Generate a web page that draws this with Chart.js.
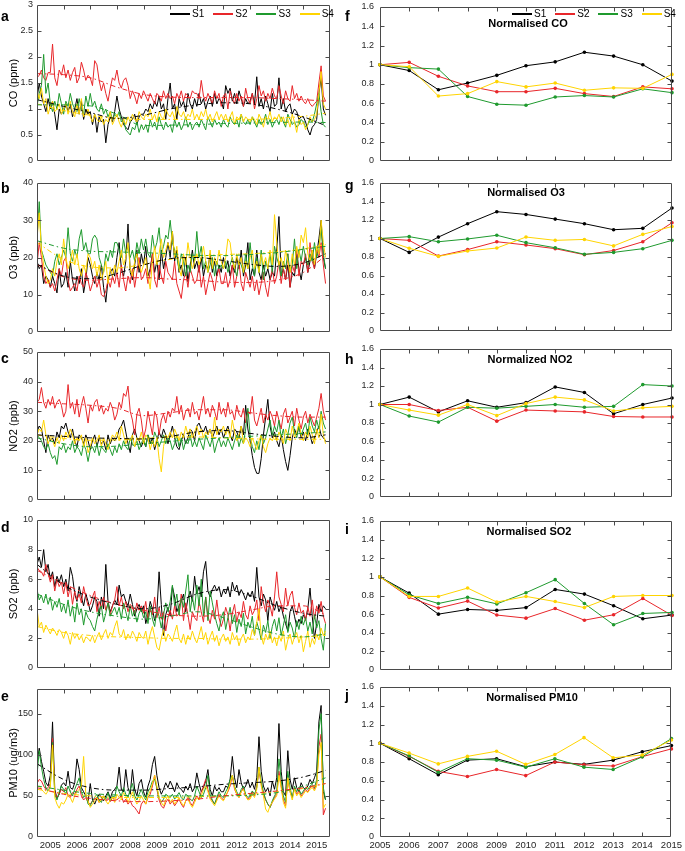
<!DOCTYPE html>
<html>
<head>
<meta charset="utf-8">
<script src="https://cdn.jsdelivr.net/npm/chart.js@4.4.0/dist/chart.umd.min.js"></script>
<style>
body { margin: 0; background: #fff; font-family: 'Liberation Sans', Arial, Helvetica, sans-serif; }
#fig { position: relative; width: 685px; height: 851px; overflow: hidden; }
canvas { position: absolute; }
.lbl { position: absolute; font-weight: bold; font-size: 14px; line-height: 1; color: #000; }
.ttl { position: absolute; font-weight: bold; font-size: 11px; line-height: 1; color: #000; transform: translateX(-50%); white-space: nowrap; }
.leg { position: absolute; display: flex; align-items: center; font-size: 10px; line-height: 1; color: #000; }
.leg .ln { display: inline-block; width: 20px; height: 2px; margin-right: 2px; }
.leg .tx { margin-right: 9px; }
</style>
</head>
<body>
<div id="fig"></div>
<script>
const seriesNames = ['S1', 'S2', 'S3', 'S4'];
const seriesColors = ['#000000', '#e8262a', '#1f9a2e', '#ffd400'];

// month index from Jan 2005 (0) to Nov 2015 (130)
const months = Array.from({length: 131}, (_, i) => i);
const trendMonths = [0, 12, 24, 36, 48, 60, 72, 84, 96, 108, 120, 130];
const yearTickLabels = ['2005', '2006', '2007', '2008', '2009', '2010', '2011', '2012', '2013', '2014', '2015'];
const years = [2005, 2006, 2007, 2008, 2009, 2010, 2011, 2012, 2013, 2014, 2015];

// ---- CO (ppm), monthly
const coS1 = [
  1.2, 1.5, 1.25, 1.1, 0.95, 1.2, 1.0, 1.15, 0.9, 0.6, 1.0, 0.9,
  1.0, 1.1, 0.95, 1.1, 0.85, 1.0, 1.2, 0.9, 1.15, 0.8, 1.0, 0.9,
  0.95, 0.7, 0.9, 0.55, 0.85, 0.75, 0.8, 0.35, 0.7, 0.85, 0.75, 0.95,
  1.25, 1.0, 0.85, 0.7, 0.65, 0.6, 0.75, 0.8, 0.9, 0.7, 0.85, 0.9,
  0.9, 1.0, 0.95, 1.1, 1.0, 1.15, 1.05, 1.25, 1.0, 1.1, 0.8, 1.2,
  1.5, 1.0, 1.1, 0.8, 1.2, 1.05, 1.15, 0.95, 1.3, 1.1, 1.0, 1.2,
  1.05, 1.3, 1.1, 1.2, 1.0, 1.15, 1.25, 1.05, 1.3, 1.1, 1.2, 1.15,
  1.0, 1.45, 1.3, 1.4, 1.15, 1.3, 1.1, 1.35, 1.2, 1.05, 1.2, 1.1,
  1.15, 1.3, 1.1, 1.62, 1.05, 1.2, 1.0, 1.25, 1.1, 0.95, 1.3, 1.05,
  1.1, 1.6, 1.0, 1.2, 0.95, 1.05, 1.1, 0.9, 1.0, 0.95, 0.8, 0.85,
  0.85, 0.75, 0.6, 0.5, 0.65, 0.7, 0.8, 1.3, 1.6, 1.0, 0.88
];
const coS2 = [
  1.6, 1.65, 1.75, 1.6, 1.55, 1.7, 1.7, 2.25, 1.6, 1.45, 1.75, 1.65,
  1.85, 1.6, 1.75, 1.55, 1.7, 1.8, 1.5, 1.6, 1.9, 1.75, 1.55, 1.65,
  1.6, 1.45, 1.93, 1.85, 1.55, 1.35, 1.5, 1.3, 1.15, 1.4, 1.6, 1.55,
  1.75, 1.5, 1.4, 1.55, 1.6, 1.45, 1.2, 1.35, 1.25, 1.1, 1.3, 1.2,
  1.35, 1.25, 1.15, 1.3, 1.2, 1.1, 1.3, 1.25, 1.15, 1.35, 1.2, 1.3,
  1.2, 1.25, 1.1, 1.3, 1.2, 1.35, 1.15, 1.3, 1.25, 1.2, 1.35, 1.3,
  1.3, 1.2, 1.55, 1.25, 1.15, 1.3, 1.2, 1.1, 1.35, 1.2, 1.3, 1.05,
  1.25, 1.3, 1.0, 1.35, 1.2, 1.1, 1.3, 1.15, 1.25, 1.05, 1.4, 1.2,
  1.1, 1.3, 1.0, 1.2, 1.45, 1.25, 1.35, 1.15, 1.3, 1.2, 1.4, 1.25,
  1.2, 1.45, 1.25, 1.1, 1.35, 1.2, 1.15, 1.45, 1.2, 1.3, 1.15, 1.25,
  1.15, 1.1, 1.2, 1.1, 1.05, 1.1, 1.15, 1.5, 1.83, 1.25, 1.15
];
const coS3 = [
  1.05, 1.3, 1.45, 2.05, 1.3, 1.5, 1.1, 0.95, 1.15, 1.0, 1.3, 1.1,
  0.9, 1.15, 1.05, 1.3, 1.1, 1.0, 0.95, 1.2, 1.0, 0.9, 1.25, 1.05,
  1.3, 1.05, 1.15, 1.0, 0.95, 1.1, 0.9, 1.0, 0.85, 0.95, 0.8, 0.9,
  0.85, 0.95, 0.75, 0.8, 0.6, 0.55, 0.5, 0.65, 0.6, 0.75, 0.55, 0.7,
  0.6, 0.7, 0.55, 0.8, 0.65, 0.75, 0.6, 0.85, 0.7, 0.6, 0.75, 0.65,
  0.7, 0.55, 0.8, 0.65, 0.75, 0.6, 0.7, 0.85, 0.65, 0.75, 0.6, 0.7,
  0.75, 0.65, 0.8, 0.7, 0.6, 0.85, 0.75, 0.65, 0.8, 0.7, 0.75, 0.65,
  0.8, 0.7, 0.65, 0.85, 0.75, 0.7, 0.8, 0.65, 0.9, 0.75, 0.7, 0.8,
  0.7, 0.85, 0.75, 0.65, 0.8, 0.7, 0.75, 0.9, 0.7, 0.8, 0.65, 0.75,
  0.8, 0.7, 0.85, 0.75, 0.65, 0.9, 0.8, 0.7, 0.75, 0.65, 0.7, 0.8,
  0.75, 0.65, 0.7, 0.8, 0.75, 0.9, 1.1, 1.3, 0.95, 0.7, 0.65
];
const coS4 = [
  1.35, 1.2, 1.4, 1.1, 1.2, 0.9, 1.05, 1.15, 0.95, 1.0, 1.1, 0.9,
  1.0, 1.1, 0.9, 1.15, 0.95, 0.85, 1.1, 0.9, 1.2, 0.85, 0.9, 1.0,
  0.85, 0.75, 0.9, 0.8, 0.75, 0.85, 0.7, 0.8, 0.75, 0.95, 0.7, 0.8,
  0.9, 0.75, 0.65, 0.8, 0.7, 0.85, 0.75, 0.9, 0.8, 0.75, 0.95, 0.85,
  0.8, 0.9, 0.85, 1.0, 0.8, 0.9, 0.75, 0.95, 0.85, 0.8, 1.0, 0.9,
  0.85, 0.95, 0.8, 1.05, 0.9, 0.85, 0.95, 0.8, 0.9, 0.85, 1.0, 0.8,
  0.9, 0.8, 0.95, 0.85, 1.0, 0.8, 0.9, 0.75, 0.85, 0.95, 0.8, 0.9,
  0.8, 0.9, 0.75, 0.85, 0.95, 0.7, 0.85, 0.8, 0.9, 0.75, 0.85, 0.8,
  0.75, 0.85, 0.8, 0.7, 0.9, 0.8, 0.65, 0.85, 0.8, 0.95, 0.75, 0.85,
  0.8, 0.9, 0.75, 0.85, 0.7, 0.8, 0.65, 0.9, 0.75, 0.55, 0.8, 0.7,
  0.75, 0.6, 0.7, 0.85, 0.75, 0.8, 0.9, 1.3, 1.72, 1.1, 1.0
];
const coTrendS1 = [1.18, 1.05, 0.93, 0.82, 0.88, 1.0, 1.08, 1.12, 1.1, 1.0, 0.85, 0.68];
const coTrendS2 = [1.68, 1.66, 1.6, 1.42, 1.28, 1.23, 1.22, 1.22, 1.22, 1.2, 1.18, 1.15];
const coTrendS3 = [1.08, 1.08, 1.06, 0.9, 0.68, 0.69, 0.7, 0.72, 0.73, 0.74, 0.75, 0.74];
const coTrendS4 = [1.1, 0.97, 0.88, 0.82, 0.8, 0.8, 0.8, 0.8, 0.8, 0.82, 0.86, 0.92];

// ---- O3 (ppb), monthly
const o3S1 = [
  19, 17, 18, 13, 15, 14, 12, 15, 13, 10.5, 17, 12,
  13, 16, 12, 19, 14, 11, 15, 13, 17, 10.5, 14, 20,
  18, 15, 13, 16, 14, 18, 12, 8, 14, 16, 17, 15,
  20, 24, 17, 15, 19, 29, 16, 14, 18, 22, 16, 21,
  18, 23, 15, 17, 21, 16, 19, 14, 22, 17, 20, 24,
  20, 27, 19, 22, 16, 18, 15, 20, 13.5, 18, 22, 17,
  19, 16, 20, 15, 18, 17, 21, 16, 19, 15, 18, 16,
  20, 17, 19, 15, 18, 16, 20, 17, 22, 15, 18, 24,
  14, 17, 15, 22, 16, 14, 18, 15, 17, 14, 16, 15,
  22, 31, 15, 17, 14, 18, 12, 16, 15, 21, 17, 14,
  18, 20, 16, 19, 22, 17, 21, 25, 30, 20, 17
];
const o3S2 = [
  18, 24, 20, 15, 13, 14, 12, 13, 11, 14, 17, 15,
  19, 20, 14, 11, 12, 13, 11, 15, 13, 12, 16, 14,
  11, 13, 15, 12, 14, 10, 9.5, 11, 14, 12, 15, 13,
  16, 12, 18, 14, 11, 15, 13, 17, 12, 16, 20, 14,
  15, 17, 13, 16, 21, 14, 12, 18, 15, 13, 19, 16,
  15, 14, 19, 13, 11, 9, 14, 16, 12, 17, 15, 13,
  14, 18, 12, 15, 10, 13, 16, 14, 11, 15, 17, 13,
  13, 16, 12, 14, 18, 12, 15, 19, 13, 11, 16, 14,
  12, 15, 11, 14, 10, 13, 16, 12, 9.5, 14, 17, 13,
  15, 19, 13, 17, 14, 21, 12, 18, 16, 22, 15, 19,
  18, 21, 16, 24, 19, 17, 22, 20, 24, 18, 13
];
const o3S3 = [
  25, 35, 22, 20, 18, 17, 16, 15, 19, 21, 18, 20,
  22, 20, 28, 21, 19, 22, 20, 25, 27.5, 22, 24, 21,
  21, 25, 26, 25, 20, 18, 16, 21, 19, 22, 20, 24,
  24, 22, 20, 25, 21, 23, 20, 22, 19, 24, 21, 25,
  22, 25, 21, 20, 26, 22, 24, 28, 21, 23, 26, 25,
  30, 24, 22, 20, 17, 21, 19, 15, 18, 16, 21, 19,
  27, 20, 23, 17, 19, 16, 18, 20, 15, 19, 17, 18,
  17, 19, 16, 18, 20, 17, 15, 19, 18, 16, 21, 17,
  24, 18, 15, 20, 16, 22, 14, 19, 17, 21, 16, 23,
  20, 18, 15, 19, 17, 21, 16, 18, 25, 17, 22, 19,
  23, 20, 18, 21, 19, 24, 20, 22, 28, 21, 17
];
const o3S4 = [
  25, 32, 22, 18, 15, 13, 14, 17, 15, 19, 21, 18,
  25, 20, 17, 19, 22, 18, 21, 17, 15, 18, 16, 21,
  20, 17, 19, 15, 18, 14, 16, 19, 13, 17, 15, 18,
  16, 19, 22, 18, 20, 24, 17, 15, 19, 21, 18, 16,
  18, 20, 15, 11.5, 19, 23, 18, 21, 25, 20, 22, 24,
  22, 27, 20, 23, 17, 15, 21, 18, 24, 20, 17, 19,
  21, 18, 20, 23, 19, 16, 22, 17, 20, 18, 22, 19,
  17, 20, 25, 24, 19, 17, 21, 18, 20, 16, 19, 17,
  20, 22, 17, 19, 16, 21, 18, 20, 17, 22, 18, 31.5,
  24, 18, 20, 17, 22, 19, 16, 21, 18, 23, 20, 26,
  24, 28, 21, 19, 22, 18, 23, 21, 30, 24, 20
];
const o3TrendS1 = [18.2, 15, 14.3, 15.7, 18, 19.7, 20, 19.2, 18.2, 17.6, 18.5, 21];
const o3TrendS2 = [18.1, 14.8, 13.9, 14.3, 14.6, 14.2, 13.9, 13.4, 13.3, 13.9, 16, 20.5];
const o3TrendS3 = [24.5, 22.5, 21.7, 21.5, 21.3, 21, 20.6, 20.5, 20.8, 21.3, 22.2, 23];
const o3TrendS4 = [24, 19.5, 17.5, 17.2, 18.2, 19.5, 20.3, 20.8, 21, 21.5, 22.3, 23.5];

// ---- NO2 (ppb), monthly
const no2S1 = [
  23, 25, 24, 20, 16, 22, 20, 21, 19, 23, 21, 25,
  24, 26, 23, 21, 24, 20, 18, 22, 21, 19, 22, 20,
  17, 20, 22, 18, 21, 19, 20, 17, 22, 19, 21, 20,
  21, 24, 25, 27, 23, 19, 16, 22, 24, 21, 20, 18,
  20, 18, 22, 19, 21, 17, 20, 23, 21, 24, 22, 19,
  22, 25, 21, 18, 17, 20, 22, 19, 21, 24, 23, 20,
  25, 26, 24, 23, 25, 22, 24, 21, 23, 25, 22, 24,
  21, 23, 25, 22, 20, 24, 23, 21, 25, 22, 32, 24,
  20, 15, 11, 9, 9, 14, 22, 28, 34, 25, 21, 23,
  20, 18, 22, 17, 13, 10, 15, 21, 24, 22, 25, 21,
  23, 20, 24, 22, 19, 21, 23, 25, 22, 21, 20
];
const no2S2 = [
  33, 34, 38, 33, 31, 34, 32, 35, 31, 33, 34, 32,
  28, 30, 39, 31, 33, 29, 34, 28, 32, 35, 31, 26,
  32, 30, 33, 34, 30, 32, 29, 31, 30, 33, 31, 27,
  29, 33, 31, 36, 35, 38.5, 30, 27, 22, 29, 31, 27,
  21, 24, 30, 26, 22, 30, 28, 22, 27, 29, 26, 30,
  28, 31, 30, 35, 29, 32, 27, 30, 31, 28, 33, 29,
  30, 27, 31, 35, 29, 31, 28, 32, 30, 27, 33, 29,
  31, 28, 33, 29, 30, 27, 32, 29, 28, 31, 26, 30,
  29, 35, 27, 25, 28, 31, 26, 29, 27, 30, 28, 25,
  30, 27, 24, 29, 31, 26, 28, 30, 25, 31, 27, 24,
  28, 30, 26, 29, 27, 25, 28, 31, 36, 30, 27
];
const no2S3 = [
  22, 21, 20, 18, 17, 19, 16, 14, 15, 12, 18, 17,
  19, 16, 18, 17, 20, 16, 18, 17, 15, 19, 17, 13,
  17, 18, 16, 19, 15, 18, 17, 16, 19, 17, 15, 18,
  16, 19, 17, 20, 18, 17, 21, 19, 18, 20, 17, 19,
  21, 18, 22, 20, 19, 23, 21, 18, 20, 22, 19, 21,
  20, 17, 19, 22, 18, 21, 17, 20, 19, 22, 18, 20,
  18, 21, 19, 17, 22, 20, 18, 21, 16, 19, 21, 18,
  20, 18, 21, 19, 17, 20, 22, 18, 21, 19, 24, 31,
  22, 18, 16, 20, 17, 22, 19, 21, 24, 27, 22, 25,
  23, 27, 21, 24, 19, 22, 26, 28, 23, 21, 25, 22,
  24, 26, 22, 28, 25, 23, 27, 24, 30, 26, 24
];
const no2S4 = [
  22, 24, 23, 27, 22, 19, 21, 20, 18, 21, 19, 22,
  20, 23, 21, 24, 22, 19, 21, 20, 22, 18, 21, 16,
  18, 21, 19, 20, 22, 18, 21, 19, 17, 20, 22, 21,
  23, 20, 25, 22, 19, 21, 20, 22, 18, 21, 20, 23,
  19, 22, 21, 17, 20, 18, 21, 14, 9.5, 18, 22, 21,
  23, 21, 24, 22, 20, 23, 21, 25, 22, 24, 21, 23,
  25, 22, 24, 21, 23, 22, 24, 21, 28, 22, 24, 23,
  25, 22, 24, 21, 27, 23, 20, 22, 25, 19, 21, 20,
  18, 21, 19, 17, 20, 22, 18, 16, 19, 21, 20, 22,
  20, 23, 21, 19, 24, 22, 20, 25, 21, 23, 26, 22,
  20, 23, 21, 25, 22, 19, 24, 21, 29, 22, 19
];
const no2TrendS1 = [22, 21.5, 21, 20.8, 20.6, 21.5, 23, 23.5, 22.5, 21.5, 21, 22];
const no2TrendS2 = [33, 32.5, 32, 31, 28.5, 29.5, 30.5, 30.5, 29.5, 28.5, 28, 28];
const no2TrendS3 = [21, 19, 18, 18.2, 19, 19.8, 20.5, 21, 21.5, 22, 22.5, 23];
const no2TrendS4 = [22, 20.8, 20.2, 20.3, 20.8, 21.2, 21.3, 21, 20.7, 20.5, 20.5, 20.5];

// ---- SO2 (ppb), monthly
const so2S1 = [
  7, 7.5, 6.8, 8, 6.5, 7, 6, 6.5, 5.5, 6.2, 5.8, 6.3,
  5.5, 6, 5.2, 6.8, 6.2, 5, 4.5, 5.5, 4.8, 4.2, 5, 4.5,
  3.8, 4.2, 4.8, 4.5, 3.5, 4.8, 4, 7, 4.5, 3.8, 4.2, 4.6,
  4.3, 5.6, 4.8, 5, 4.5, 4.2, 5, 4.3, 3.5, 4, 4.3, 3.8,
  4.2, 3, 3.6, 4.5, 4, 3.2, 3.8, 6.5, 4.3, 2.2, 3.6, 4.1,
  3.5, 5.5, 4.8, 3.8, 4.2, 4.5, 5, 3.8, 4.7, 5.2, 4.5, 6.2,
  5, 5.5, 4.8, 6.5, 7.2, 5.2, 4.8, 5.3, 5.6, 5.2, 5.5, 4.8,
  5.3, 5, 5.5, 4.8, 5.8, 5.2, 5.6, 4.9, 5.3, 5, 4.6, 5.1,
  4.8, 5.2, 4.5, 6.8, 4.8, 4.2, 5, 4.6, 3.2, 4.8, 4.3, 3.9,
  4.5, 3.8, 4.2, 3.5, 3, 2.5, 3.8, 4.2, 3.5, 2.8, 3.3, 3,
  3.6, 3.3, 4, 5.4, 3.5, 2, 3, 4.3, 3.8, 4.2, 4
];
const so2S2 = [
  6.8, 6.6, 6.5, 6.2, 7, 6.4, 5.8, 6.3, 5.2, 6, 5.5, 5.8,
  5, 5.8, 4.8, 5.5, 4.3, 5.2, 4.6, 5, 4.4, 5.5, 4.8, 4.2,
  4.3, 4.8, 5.2, 3.8, 4.5, 4, 4.8, 3.9, 4.4, 3.6, 4.2, 4.6,
  5.5, 4.2, 4.8, 4, 4.5, 3.8, 4.3, 4.1, 3.7, 4.4, 3.9, 4.2,
  3.7, 4.5, 3.3, 4, 3.6, 4.8, 3.4, 4.1, 3.3, 3.8, 2.5, 3.4,
  3.9, 3.3, 4.2, 3.5, 3.7, 5, 3.2, 4.4, 3.6, 2.6, 3.8, 3.4,
  3.2, 4.5, 3.8, 3.1, 4.8, 3.5, 3, 3.9, 3.3, 4.6, 3.4, 2.8,
  3.3, 4.1, 3.6, 2.5, 3.7, 4.3, 3.1, 3.8, 3.4, 4.5, 3.6, 3.3,
  4.2, 3.6, 3.9, 4.6, 3.2, 5.5, 4.4, 3.8, 4.6, 4.2, 3.5, 4.8,
  6.5, 4.8, 4.3, 3.8, 5.4, 4.2, 4.9, 5.2, 4.1, 3.6, 4.4, 3.7,
  3.9, 3.2, 4.1, 3.5, 4.6, 3.3, 4.2, 3.7, 4.5, 3.5, 3
];
const so2S3 = [
  5.3, 4.6, 4.9, 4.4, 5, 4.3, 4.8, 3.9, 4.5, 4.1, 4.7, 3.8,
  4.3, 3.7, 4.6, 3.5, 4.2, 3.1, 4.4, 3.6, 4, 2.9, 3.8, 3.4,
  3.2, 2.8, 2.5, 3.3, 3.9, 4.2, 3.1, 3.7, 4.4, 3.5, 3.8, 4.1,
  3.6, 4.1, 3.3, 4.4, 3.8, 3.2, 4.2, 3.5, 3.9, 3.1, 3.7, 4,
  3.4, 3.8, 3, 4.2, 3.3, 2.8, 3.9, 3.5, 2.7, 3.6, 4.4, 3.8,
  4.5, 5.6, 4.2, 5, 3.6, 4.7, 4.1, 5.2, 6.3, 3.8, 4.8, 3.9,
  5.6, 4.2, 6, 3.5, 4.8, 3.2, 5.2, 4.4, 3.6, 3, 2.5, 3.4,
  3.8, 2.6, 3.4, 4.1, 3, 3.6, 2.4, 3.3, 2.8, 3.7, 2.3, 3.1,
  2.7, 3.5, 2.2, 3.1, 2.6, 1.9, 2.9, 2.4, 3.2, 2, 2.8, 3.3,
  2.5, 3.4, 2.2, 2.9, 3.6, 2.4, 3.1, 2.7, 2, 3.2, 2.6, 3.5,
  2.9, 3.4, 2.5, 3.1, 2.3, 3.6, 2.7, 3.2, 2, 1.2, 3
];
const so2S4 = [
  4, 2.8, 3.1, 2.4, 2.9, 2.6, 2.3, 2.7, 2.5, 2.2, 2.6, 2.4,
  2, 2.5, 2.2, 1.6, 2.4, 2, 2.3, 1.9, 2.2, 1.7, 2.1, 2,
  1.8, 2.2, 1.7, 2.1, 2.4, 1.9, 2.3, 2.6, 2, 2.4, 2.2, 2.8,
  3.2, 2.3, 2.1, 2.6, 1.9, 2.3, 2, 2.5, 2.2, 1.8, 2.4, 2.1,
  2, 2.5, 1.6, 2.3, 2.8, 2.1, 1.4, 1.2, 2, 2.6, 1.8, 2.3,
  2.1, 1.8, 2.4, 2.9, 2, 1.7, 2.3, 1.6, 2.2, 1.9, 2.5, 2,
  1.7, 2.2, 2.8, 1.9, 2.4, 1.6, 2.1, 2.5, 1.8, 2.2, 1.5, 2,
  2.3, 1.8, 2.1, 1.6, 2.4, 1.9, 2.2, 1.5, 2, 2.3, 1.7, 2.1,
  1.9, 2.6, 2.2, 3.1, 4, 2.2, 1.6, 2.3, 1.9, 2.5, 1.7, 2.1,
  1.5, 2.2, 1.8, 2.5, 1.2, 1.9, 2.3, 1.6, 2.1, 2.4, 1.7, 2.2,
  1.1, 1.8, 2.5, 1.4, 2, 1.6, 2.3, 1.9, 2.7, 2.2, 2.5
];
const so2TrendS1 = [7.0, 5.6, 4.8, 4.3, 4.0, 4.3, 5.0, 5.3, 4.9, 4.2, 3.7, 3.5];
const so2TrendS2 = [6.6, 5.7, 4.9, 4.3, 3.9, 3.6, 3.5, 3.6, 3.9, 4.2, 4.2, 3.6];
const so2TrendS3 = [5.0, 4.3, 3.8, 3.5, 3.3, 3.5, 3.8, 3.4, 2.8, 2.3, 2.1, 2.3];
const so2TrendS4 = [2.8, 2.4, 2.2, 2.1, 2.05, 2.0, 2.0, 1.95, 1.95, 2.0, 2.1, 2.2];

// ---- PM10 (ug/m3), monthly
const pmS1 = [
  90, 108, 92, 80, 66, 62, 75, 140, 58, 47, 52, 63,
  66, 62, 80, 60, 58, 66, 95, 82, 60, 55, 50, 43,
  65, 45, 40, 47, 52, 48, 44, 50, 55, 47, 55, 58,
  62, 85, 58, 55, 82, 60, 52, 82, 58, 50, 65, 70,
  55, 48, 62, 70, 88, 98, 75, 60, 52, 58, 66, 60,
  68, 62, 55, 66, 60, 58, 54, 62, 57, 65, 55, 60,
  78, 65, 55, 60, 68, 82, 58, 50, 62, 56, 60, 55,
  55, 62, 60, 70, 98, 72, 60, 82, 66, 58, 62, 70,
  60, 66, 58, 72, 122, 80, 62, 55, 60, 50, 68, 58,
  72, 138, 80, 55, 50, 105, 70, 58, 72, 60, 55, 66,
  60, 58, 62, 70, 65, 72, 80, 140, 160, 55, 45
];
const pmS2 = [
  65, 70, 68, 62, 58, 60, 65, 120, 55, 48, 52, 58,
  55, 60, 50, 48, 54, 52, 58, 62, 50, 45, 48, 42,
  40, 44, 46, 48, 42, 45, 50, 44, 47, 43, 48, 46,
  45, 48, 50, 42, 46, 40, 44, 38, 36, 32, 28, 40,
  44, 40, 48, 52, 62, 75, 58, 45, 38, 35, 42, 46,
  40, 44, 38, 42, 46, 40, 36, 44, 48, 42, 38, 45,
  50, 46, 55, 62, 70, 58, 48, 44, 40, 46, 52, 48,
  45, 50, 55, 62, 75, 58, 52, 48, 55, 60, 50, 46,
  48, 55, 50, 62, 80, 65, 52, 45, 40, 36, 42, 48,
  52, 80, 62, 45, 38, 70, 55, 48, 60, 52, 56, 50,
  54, 58, 55, 60, 62, 58, 65, 110, 125, 27, 35
];
const pmS3 = [
  75, 105, 85, 70, 60, 56, 62, 115, 52, 45, 55, 62,
  58, 52, 62, 55, 50, 58, 65, 72, 55, 48, 52, 40,
  38, 44, 48, 52, 45, 42, 50, 46, 54, 44, 50, 48,
  62, 55, 50, 60, 52, 48, 58, 65, 50, 45, 52, 58,
  50, 45, 55, 60, 68, 70, 60, 48, 42, 46, 52, 50,
  48, 52, 46, 50, 54, 48, 45, 52, 50, 46, 44, 50,
  62, 55, 48, 52, 60, 75, 52, 45, 40, 48, 55, 50,
  48, 55, 60, 70, 75, 62, 55, 50, 58, 62, 52, 48,
  50, 56, 52, 60, 85, 68, 55, 46, 40, 36, 44, 50,
  55, 95, 70, 50, 42, 80, 60, 48, 62, 55, 58, 52,
  56, 60, 58, 62, 64, 60, 70, 130, 150, 60, 45
];
const pmS4 = [
  60, 62, 58, 55, 52, 56, 60, 112, 48, 40, 35, 42,
  40, 45, 52, 48, 42, 50, 55, 58, 62, 98, 50, 44,
  36, 40, 44, 48, 42, 46, 50, 44, 40, 45, 48, 42,
  52, 48, 45, 54, 50, 42, 48, 55, 46, 40, 44, 50,
  45, 40, 50, 56, 65, 75, 62, 48, 42, 38, 45, 50,
  42, 46, 40, 44, 48, 42, 38, 44, 46, 40, 36, 42,
  48, 45, 50, 58, 62, 55, 46, 42, 38, 44, 50, 46,
  44, 50, 56, 65, 75, 60, 52, 48, 55, 58, 50, 45,
  46, 52, 48, 58, 85, 62, 50, 34, 30, 38, 42, 46,
  50, 75, 60, 42, 35, 72, 55, 45, 58, 50, 54, 48,
  52, 56, 54, 58, 60, 56, 62, 100, 115, 35, 40
];
const pmTrendS1 = [89, 70, 60, 57, 57, 59, 61, 64, 66, 68, 73, 81];
const pmTrendS2 = [60, 52, 47, 44, 43, 44, 46, 50, 53, 56, 60, 65];
const pmTrendS3 = [62, 57, 53, 51, 50, 50, 50, 50, 51, 54, 62, 72];
const pmTrendS4 = [58, 53, 50, 48, 48, 48, 49, 50, 52, 55, 59, 65];

// ---- normalised annual means
const normCoS1 = [1.0, 0.94, 0.74, 0.81, 0.89, 0.99, 1.03, 1.13, 1.09, 1.0, 0.83];
const normCoS2 = [1.0, 1.025, 0.88, 0.78, 0.72, 0.72, 0.755, 0.70, 0.67, 0.77, 0.75];
const normCoS3 = [1.0, 0.97, 0.955, 0.67, 0.59, 0.58, 0.665, 0.68, 0.665, 0.75, 0.71];
const normCoS4 = [1.0, 0.98, 0.675, 0.70, 0.825, 0.77, 0.81, 0.735, 0.76, 0.755, 0.90];
const normO3S1 = [1.0, 0.85, 1.015, 1.16, 1.29, 1.26, 1.21, 1.16, 1.095, 1.11, 1.33];
const normO3S2 = [1.0, 0.98, 0.81, 0.88, 0.965, 0.93, 0.89, 0.825, 0.87, 0.965, 1.17];
const normO3S3 = [1.0, 1.02, 0.965, 0.995, 1.035, 0.955, 0.90, 0.83, 0.85, 0.89, 0.98];
const normO3S4 = [1.0, 0.895, 0.807, 0.865, 0.897, 1.016, 0.98, 0.99, 0.92, 1.045, 1.13];
const normNo2S1 = [1.0, 1.08, 0.92, 1.04, 0.97, 1.02, 1.19, 1.13, 0.90, 1.0, 1.07];
const normNo2S2 = [1.0, 1.0, 0.935, 0.97, 0.82, 0.94, 0.93, 0.92, 0.87, 0.865, 0.865];
const normNo2S3 = [1.0, 0.875, 0.81, 0.97, 0.96, 0.98, 1.0, 0.97, 0.98, 1.215, 1.20];
const normNo2S4 = [1.0, 0.94, 0.885, 1.0, 0.88, 1.01, 1.08, 1.05, 0.93, 0.965, 0.98];
const normSo2S1 = [1.0, 0.825, 0.60, 0.65, 0.64, 0.67, 0.865, 0.815, 0.69, 0.55, 0.59];
const normSo2S2 = [1.0, 0.78, 0.665, 0.74, 0.59, 0.557, 0.66, 0.535, 0.593, 0.768, 0.586];
const normSo2S3 = [1.0, 0.807, 0.714, 0.78, 0.71, 0.83, 0.97, 0.714, 0.486, 0.607, 0.618];
const normSo2S4 = [1.0, 0.79, 0.79, 0.88, 0.73, 0.79, 0.735, 0.67, 0.79, 0.80, 0.80];
const normPmS1 = [1.0, 0.835, 0.665, 0.82, 0.835, 0.75, 0.80, 0.775, 0.82, 0.91, 0.975];
const normPmS2 = [1.0, 0.86, 0.70, 0.645, 0.72, 0.655, 0.80, 0.77, 0.757, 0.857, 0.94];
const normPmS3 = [1.0, 0.865, 0.69, 0.835, 0.82, 0.745, 0.835, 0.745, 0.72, 0.855, 1.05];
const normPmS4 = [1.0, 0.895, 0.78, 0.86, 0.915, 0.775, 0.88, 1.06, 0.845, 0.875, 1.035];

const FONT = "'Liberation Sans', Arial, Helvetica, sans-serif";
const TICK_COLOR = '#262626';
Chart.defaults.font.family = FONT;

// MATLAB-like box with inward tick marks
const boxTicks = {
    id: 'boxTicks',
    afterDraw(chart, args, opts) {
        const {ctx, chartArea: a} = chart;
        const xs = chart.scales.x, ys = chart.scales.y;
        const L = Math.round(a.left) + 0.5, R = Math.round(a.right) - 0.5;
        const T = Math.round(a.top) + 0.5, B = Math.round(a.bottom) - 0.5;
        const len = 4;
        ctx.save();
        ctx.strokeStyle = '#4a4a4a';
        ctx.lineWidth = 1;
        ctx.beginPath();
        ctx.rect(L, T, R - L, B - T);
        xs.ticks.forEach(t => {
            if (opts.xEvery && t.value % opts.xEvery !== 0) return;
            const px = Math.round(xs.getPixelForValue(t.value)) + 0.5;
            if (px <= L + 1 || px >= R - 1) return;
            ctx.moveTo(px, B); ctx.lineTo(px, B - len);
            ctx.moveTo(px, T); ctx.lineTo(px, T + len);
        });
        ys.ticks.forEach(t => {
            const py = Math.round(ys.getPixelForValue(t.value)) + 0.5;
            if (py <= T + 1 || py >= B - 1) return;
            ctx.moveTo(L, py); ctx.lineTo(L + len, py);
            ctx.moveTo(R, py); ctx.lineTo(R - len, py);
        });
        ctx.stroke();
        ctx.restore();
    }
};
Chart.register(boxTicks);

const fig = document.getElementById('fig');

function addCanvas(left, top, w, h) {
    const c = document.createElement('canvas');
    c.width = w;
    c.height = h;
    c.style.left = left + 'px';
    c.style.top = top + 'px';
    c.style.width = w + 'px';
    c.style.height = h + 'px';
    fig.appendChild(c);
    return c;
}

function addText(cls, text, left, top) {
    const d = document.createElement('div');
    d.className = cls;
    d.textContent = text;
    d.style.left = left + 'px';
    d.style.top = top + 'px';
    fig.appendChild(d);
}

function addLegend(left, top) {
    const d = document.createElement('div');
    d.className = 'leg';
    d.style.left = left + 'px';
    d.style.top = top + 'px';
    seriesNames.forEach((name, i) => {
        d.innerHTML += `<span class="ln" style="background:${seriesColors[i]}"></span><span class="tx">${name}</span>`;
    });
    fig.appendChild(d);
}

const leftPanels = [
    {letter: 'a', title: 'CO (ppm)', max: 3, step: 0.5, top: 5, bottom: 161, letterTop: 9,
        series: [coS1, coS2, coS3, coS4], trends: [coTrendS1, coTrendS2, coTrendS3, coTrendS4]},
    {letter: 'b', title: 'O3 (ppb)', max: 40, step: 10, top: 183, bottom: 332, letterTop: 181,
        series: [o3S1, o3S2, o3S3, o3S4], trends: [o3TrendS1, o3TrendS2, o3TrendS3, o3TrendS4]},
    {letter: 'c', title: 'NO2 (ppb)', max: 50, step: 10, top: 352, bottom: 500, letterTop: 351,
        series: [no2S1, no2S2, no2S3, no2S4], trends: [no2TrendS1, no2TrendS2, no2TrendS3, no2TrendS4]},
    {letter: 'd', title: 'SO2 (ppb)', max: 10, step: 2, top: 520, bottom: 668, letterTop: 520,
        series: [so2S1, so2S2, so2S3, so2S4], trends: [so2TrendS1, so2TrendS2, so2TrendS3, so2TrendS4]},
    {letter: 'e', title: 'PM10 (ug/m3)', max: 180, step: 50, top: 689, bottom: 837, letterTop: 689,
        series: [pmS1, pmS2, pmS3, pmS4], trends: [pmTrendS1, pmTrendS2, pmTrendS3, pmTrendS4]},
];

const rightPanels = [
    {letter: 'f', title: 'Normalised CO', top: 7, bottom: 161, letterTop: 9, titleX: 528, titleTop: 18,
        series: [normCoS1, normCoS2, normCoS3, normCoS4]},
    {letter: 'g', title: 'Normalised O3', top: 183, bottom: 331, letterTop: 178, titleX: 526, titleTop: 187,
        series: [normO3S1, normO3S2, normO3S3, normO3S4]},
    {letter: 'h', title: 'Normalized NO2', top: 349, bottom: 497, letterTop: 352, titleX: 530, titleTop: 354,
        series: [normNo2S1, normNo2S2, normNo2S3, normNo2S4]},
    {letter: 'i', title: 'Normalised SO2', top: 521, bottom: 670, letterTop: 522, titleX: 529, titleTop: 526,
        series: [normSo2S1, normSo2S2, normSo2S3, normSo2S4]},
    {letter: 'j', title: 'Normalised PM10', top: 687, bottom: 837, letterTop: 688, titleX: 532, titleTop: 692,
        series: [normPmS1, normPmS2, normPmS3, normPmS4]},
];

// room above/below the plot box so the scales' own label padding never moves it
const PAD_T = 13;
const PAD_B = 13;

function leftChart(p, showX) {
    const plotL = 37, plotR = 330, yW = 37, padR = 5;
    const xH = showX ? 16 : PAD_B;
    const c = addCanvas(plotL - yW, p.top - PAD_T, yW + (plotR - plotL) + padR, PAD_T + (p.bottom - p.top) + xH);
    const datasets = [];
    p.trends.forEach((t, i) => datasets.push({
        data: trendMonths.map((m, k) => ({x: m, y: t[k]})),
        borderColor: seriesColors[i], borderWidth: 1, borderDash: [5, 3, 1.5, 3],
        pointRadius: 0, cubicInterpolationMode: 'monotone', order: 0
    }));
    p.series.forEach((s, i) => datasets.push({
        data: s, borderColor: seriesColors[i], borderWidth: 1, pointRadius: 0, order: 4 - i
    }));
    new Chart(c, {
        type: 'line',
        data: {labels: months, datasets: datasets},
        options: {
            responsive: false, animation: false, devicePixelRatio: 1,
            layout: {padding: {top: PAD_T, right: padR, left: 0, bottom: 0}},
            plugins: {legend: {display: false}, tooltip: {enabled: false}, boxTicks: {xEvery: 12}},
            scales: {
                x: {
                    type: 'linear', min: 0, max: 132,
                    grid: {display: false, drawTicks: false}, border: {display: false},
                    ticks: {
                        display: showX, stepSize: 6, autoSkip: false, maxRotation: 0, minRotation: 0,
                        padding: 3, color: TICK_COLOR, font: {size: 9.5},
                        callback: v => (v % 12 === 6 ? yearTickLabels[(v - 6) / 12] : '')
                    },
                    afterFit: s => { s.height = xH; }
                },
                y: {
                    min: 0, max: p.max,
                    grid: {display: false, drawTicks: false}, border: {display: false},
                    ticks: {
                        stepSize: p.step, includeBounds: false, padding: 4, color: TICK_COLOR, font: {size: 9},
                        callback: v => String(+v.toFixed(2))
                    },
                    title: {display: true, text: p.title, color: '#000', font: {size: 11}, padding: {top: 7, bottom: 0}},
                    afterFit: s => { s.width = yW; }
                }
            }
        }
    });
    addText('lbl', p.letter, 1, p.letterTop);
}

function rightChart(p, showX) {
    const plotL = 380, plotR = 672, yW = 40;
    const padR = showX ? 13 : 5;
    const xH = showX ? 16 : PAD_B;
    const c = addCanvas(plotL - yW, p.top - PAD_T, yW + (plotR - plotL) + padR, PAD_T + (p.bottom - p.top) + xH);
    const datasets = p.series.map((s, i) => ({
        data: s, borderColor: seriesColors[i], backgroundColor: seriesColors[i],
        borderWidth: 1, pointRadius: 1.8, pointBorderWidth: 0, pointBackgroundColor: seriesColors[i],
        clip: false, order: 4 - i
    }));
    new Chart(c, {
        type: 'line',
        data: {labels: years, datasets: datasets},
        options: {
            responsive: false, animation: false, devicePixelRatio: 1,
            layout: {padding: {top: PAD_T, right: padR, left: 0, bottom: 0}},
            plugins: {legend: {display: false}, tooltip: {enabled: false}, boxTicks: {}},
            scales: {
                x: {
                    type: 'linear', min: 2005, max: 2015,
                    grid: {display: false, drawTicks: false}, border: {display: false},
                    ticks: {
                        display: showX, stepSize: 1, autoSkip: false, maxRotation: 0, minRotation: 0,
                        padding: 3, color: TICK_COLOR, font: {size: 9.5},
                        callback: v => String(v)
                    },
                    afterFit: s => { s.height = xH; }
                },
                y: {
                    min: 0, max: 1.6,
                    grid: {display: false, drawTicks: false}, border: {display: false},
                    ticks: {
                        stepSize: 0.2, padding: 6, color: TICK_COLOR, font: {size: 9},
                        callback: v => String(+v.toFixed(1))
                    },
                    afterFit: s => { s.width = yW; }
                }
            }
        }
    });
    addText('lbl', p.letter, 345, p.letterTop);
    addText('ttl', p.title, p.titleX, p.titleTop);
}

leftPanels.forEach((p, i) => leftChart(p, i === leftPanels.length - 1));
rightPanels.forEach((p, i) => rightChart(p, i === rightPanels.length - 1));
addLegend(170, 9);
addLegend(512, 9);
</script>
</body>
</html>
